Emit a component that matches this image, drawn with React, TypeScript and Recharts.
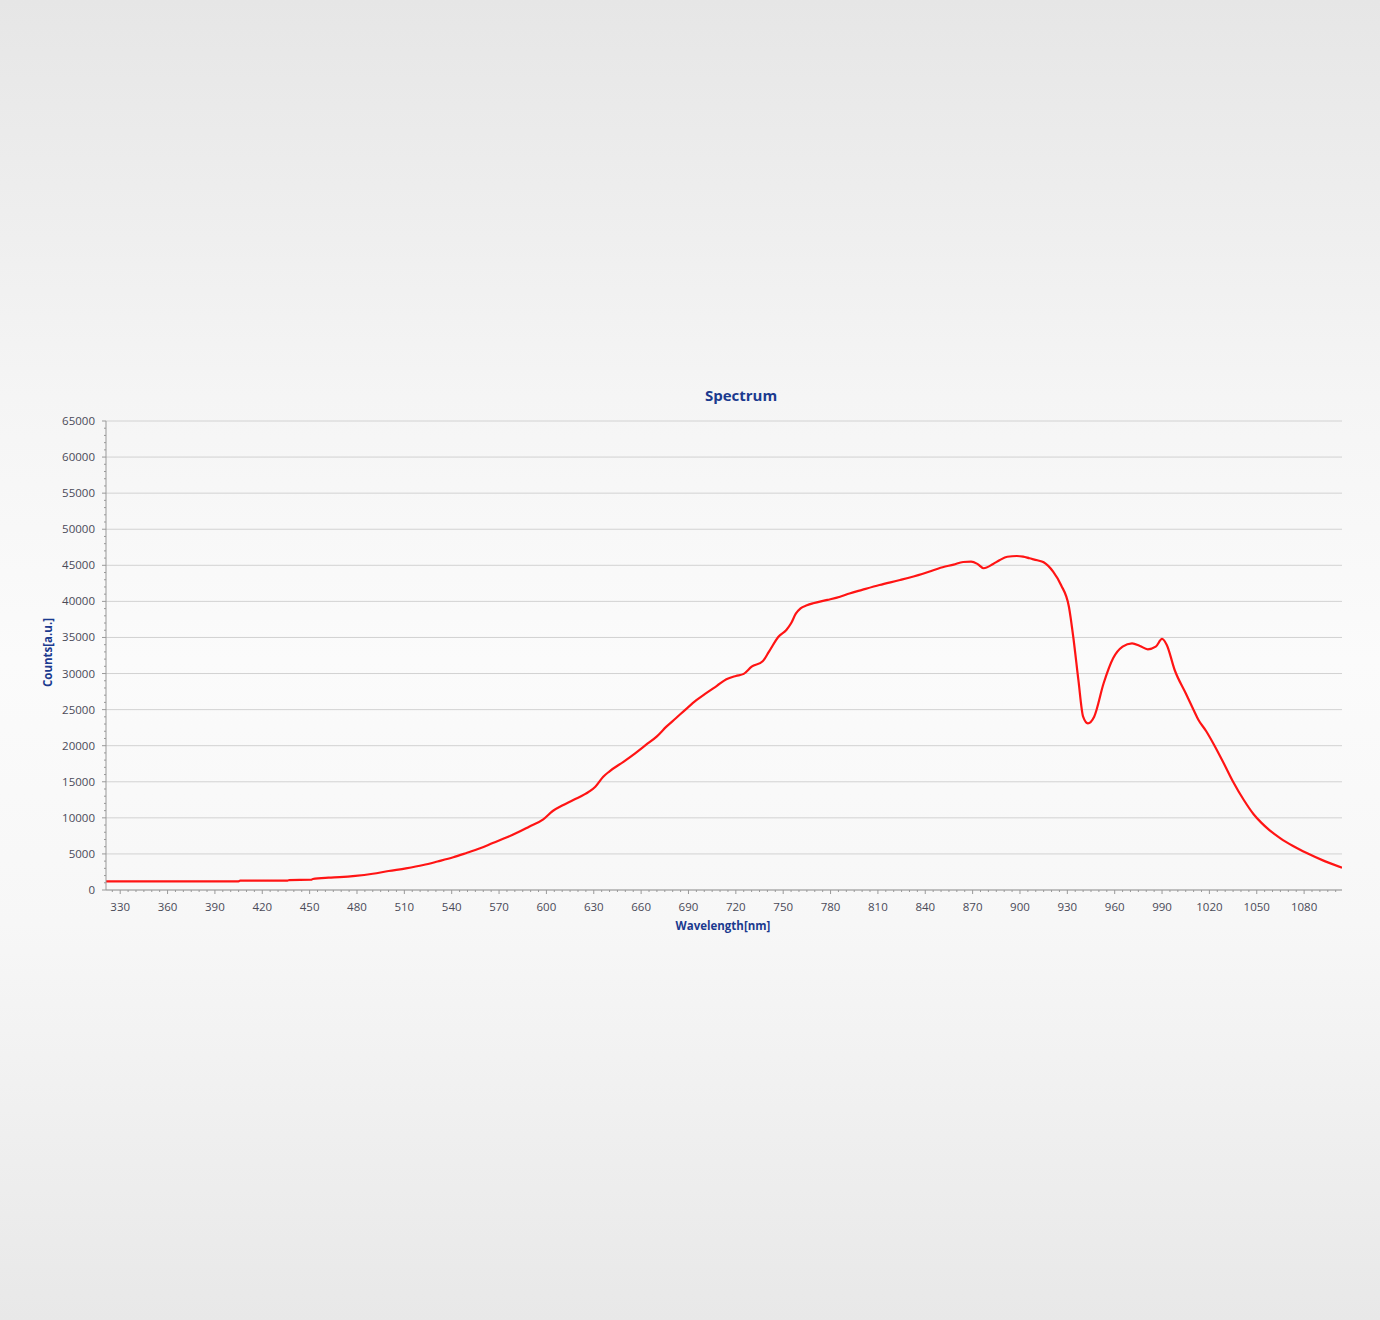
import React from 'react';
import { CartesianGrid, Line, LineChart, XAxis, YAxis } from 'recharts';

// wavelength [nm] and counts
const wavelengths = [
  321, 405, 406, 436, 437, 451, 452, 462, 469, 479, 490, 500, 511, 522, 531,
  541, 549, 558, 566, 575, 582, 589, 598, 604, 610, 617, 627, 631, 636, 640,
  649, 656, 663, 670, 676, 682, 689, 695, 701, 708, 714, 720, 725, 730, 737,
  741, 747, 752, 755, 758, 761, 765, 769, 778, 786, 792, 800, 811, 824, 838,
  851, 858, 864, 869, 873, 877, 883, 887, 892, 898, 902, 906, 911, 915, 921,
  926, 931, 934, 937, 940, 943, 947, 953, 959, 965, 971, 976, 981, 986, 990,
  993, 998, 1005, 1010, 1013, 1018, 1023, 1029, 1035, 1042, 1048, 1053, 1058,
  1065, 1073, 1082, 1093, 1104,
];

const counts = [
  1200, 1200, 1290, 1290, 1380, 1420, 1520, 1710, 1780, 1950, 2250, 2630, 3000,
  3460, 3950, 4530, 5100, 5780, 6500, 7300, 8000, 8780, 9800, 10950, 11700,
  12470, 13620, 14320, 15700, 16450, 17790, 18900, 20100, 21300, 22640, 23800,
  25180, 26300, 27260, 28300, 29200, 29660, 29950, 30950, 31700, 33030, 35100,
  36040, 36960, 38300, 39040, 39450, 39740, 40200, 40650, 41100, 41600, 42270,
  42970, 43800, 44730, 45100, 45460, 45500, 45200, 44590, 45180, 45700, 46190,
  46290, 46200, 45970, 45700, 45420, 44120, 42270, 39260, 34650, 29110, 24020,
  23100, 24020, 28650, 32110, 33720, 34190, 33820, 33360, 33720, 34800, 33960,
  30490, 27260, 24950, 23600, 22000, 20100, 17600, 15000, 12400, 10500, 9300,
  8300, 7160, 6100, 5090, 4000, 3090,
];

const xMajorTicks = [
  330, 360, 390, 420, 450, 480, 510, 540, 570, 600, 630, 660, 690, 720, 750,
  780, 810, 840, 870, 900, 930, 960, 990, 1020, 1050, 1080,
];
const yMajorTicks = [
  0, 5000, 10000, 15000, 20000, 25000, 30000, 35000, 40000, 45000, 50000,
  55000, 60000, 65000,
];

// minor tick marks: every 5 nm, every 1000 counts
const xTicks = Array.from({ length: 156 }, (_, i) => 325 + i * 5);
const yTicks = Array.from({ length: 66 }, (_, i) => i * 1000);

const data = wavelengths.map((nm, i) => ({ nm, counts: counts[i] }));

const AXIS_X = 106;
const AXIS_Y = 890;
const FONT = '"Open Sans", "Noto Sans", sans-serif';
const TICK_COLOR = '#4a4a58';
const LABEL_BLUE = '#1b3a8f';

function XTick(props: any) {
  const { x, payload } = props;
  const major = xMajorTicks.includes(payload.value);
  return (
    <g>
      <line x1={x} x2={x} y1={AXIS_Y} y2={AXIS_Y + (major ? 4 : 2)} stroke="#999" />
      {major && (
        <text
          x={x}
          y={AXIS_Y + 21}
          textAnchor="middle"
          fontSize={11.5}
          fontFamily={FONT}
          fill={TICK_COLOR}
        >
          {payload.value}
        </text>
      )}
    </g>
  );
}

function YTick(props: any) {
  const { y, payload } = props;
  const major = yMajorTicks.includes(payload.value);
  return (
    <g>
      <line x1={AXIS_X - (major ? 4 : 2)} x2={AXIS_X} y1={y} y2={y} stroke="#999" />
      {major && (
        <text
          x={AXIS_X - 11}
          y={y + 4}
          textAnchor="end"
          fontSize={11.5}
          fontFamily={FONT}
          fill={TICK_COLOR}
        >
          {payload.value}
        </text>
      )}
    </g>
  );
}

export default function App() {
  return (
    <div
      style={{
        position: 'absolute',
        left: 0,
        top: 0,
        width: 1380,
        height: 1320,
        background:
          'linear-gradient(180deg, #e6e6e6 0%, #f5f5f5 30%, #fbfbfb 50%, #f7f7f7 70%, #e8e8e8 100%)',
        fontFamily: FONT,
      }}
    >
      <div
        style={{
          position: 'absolute',
          left: 641,
          width: 200,
          top: 385,
          textAlign: 'center',
          fontSize: 15,
          fontWeight: 700,
          color: LABEL_BLUE,
        }}
      >
        Spectrum
      </div>
      <div
        style={{
          position: 'absolute',
          left: 623,
          width: 200,
          top: 918,
          textAlign: 'center',
          fontSize: 11.5,
          fontWeight: 700,
          color: LABEL_BLUE,
        }}
      >
        Wavelength[nm]
      </div>
      <div
        style={{
          position: 'absolute',
          left: -53,
          width: 200,
          top: 645,
          textAlign: 'center',
          fontSize: 11.5,
          fontWeight: 700,
          color: LABEL_BLUE,
          transform: 'rotate(-90deg)',
        }}
      >
        Counts[a.u.]
      </div>
      <div style={{ position: 'absolute', left: 0, top: 0 }}>
        <LineChart
          width={1380}
          height={1320}
          data={data}
          margin={{ top: 421, right: 38, bottom: 400, left: 46 }}
        >
          <CartesianGrid
            vertical={false}
            horizontalValues={yMajorTicks}
            stroke="#d2d2d2"
          />
          <XAxis
            dataKey="nm"
            type="number"
            domain={[321, 1104]}
            ticks={xTicks}
            interval={0}
            height={30}
            allowDataOverflow
            axisLine={{ stroke: '#999' }}
            tickLine={false}
            tick={<XTick />}
          />
          <YAxis
            type="number"
            domain={[0, 65000]}
            ticks={yTicks}
            interval={0}
            width={60}
            allowDataOverflow
            axisLine={{ stroke: '#999' }}
            tickLine={false}
            tick={<YTick />}
          />
          <Line
            type="monotone"
            dataKey="counts"
            stroke="#ff1414"
            strokeWidth={2.2}
            dot={false}
            isAnimationActive={false}
          />
        </LineChart>
      </div>
    </div>
  );
}
